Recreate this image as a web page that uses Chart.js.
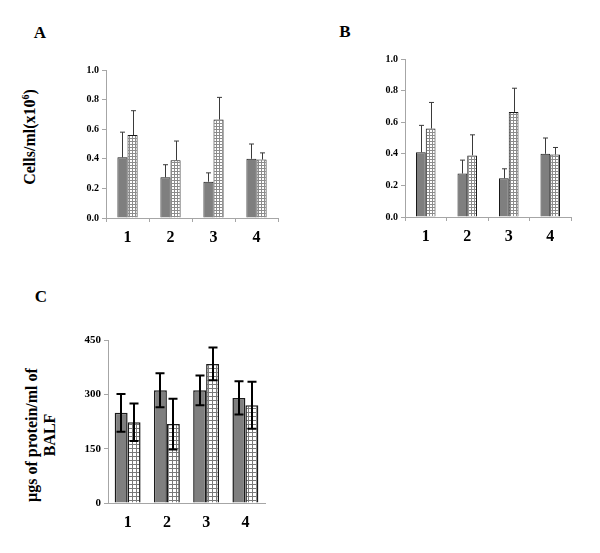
<!DOCTYPE html>
<html>
<head>
<meta charset="utf-8">
<script src="https://cdn.jsdelivr.net/npm/chart.js@4"></script>
<style>
  body { margin: 0; background: #fff; }
  #page { position: relative; width: 600px; height: 553px; overflow: hidden; font-family: "Liberation Serif", "Times New Roman", serif; }
  canvas { position: absolute; }
  .letter { position: absolute; font-weight: bold; font-size: 17px; transform: translate(-50%, -50%); }
  .ytitle { position: absolute; font-weight: bold; font-size: 16px; white-space: nowrap; text-align: center; line-height: 18px; transform: translate(-50%, -50%) rotate(-90deg); }
</style>
</head>
<body>
<div id="page">
  <div class="letter" style="left:40px; top:33px;">A</div>
  <div class="letter" style="left:345px; top:32px;">B</div>
  <div class="letter" style="left:41px; top:297px;">C</div>
  <div class="ytitle" style="left:30px; top:137px;">Cells/ml(x10<sup style="font-size:10px; line-height:0;">6</sup>)</div>
  <div class="ytitle" style="left:41px; top:435px;">µgs of protein/ml of<br>BALF</div>
  <canvas id="chartA" width="300" height="260" style="left:0; top:0;"></canvas>
  <canvas id="chartB" width="300" height="260" style="left:300px; top:0;"></canvas>
  <canvas id="chartC" width="300" height="273" style="left:0; top:280px;"></canvas>
</div>
<script>
/* Kategorien */
const groups = ['1', '2', '3', '4'];

/* Zellzahl (Panel A und B), Mittelwert und Fehler nach oben */
const cellsGray = [0.41, 0.275, 0.245, 0.40];
const cellsGrayErr = [0.17, 0.085, 0.06, 0.10];
const cellsGrid = [0.56, 0.39, 0.665, 0.395];
const cellsGridErr = [0.165, 0.13, 0.15, 0.045];
const cellsTicks = [0, 0.2, 0.4, 0.6, 0.8, 1.0];

/* Protein (Panel C), Mittelwert und Fehler (symmetrisch) */
const protGray = [249, 311, 311, 290];
const protGrayErr = [52, 47, 41, 46];
const protGrid = [223, 218, 384, 270];
const protGridErr = [52, 70, 45, 65];
const protTicks = [0, 150, 300, 450];

const serif = '"Liberation Serif", "Times New Roman", serif';

/* Karomuster für die zweite Balkenreihe */
function gridPattern(size, lineColor) {
    const c = document.createElement('canvas');
    c.width = size;
    c.height = size;
    const g = c.getContext('2d');
    g.fillStyle = '#fff';
    g.fillRect(0, 0, size, size);
    g.fillStyle = lineColor;
    g.fillRect(0, 0, size, 1);
    g.fillRect(0, 0, 1, size);
    return g.createPattern(c, 'repeat');
}

/* Plugin für die Fehlerbalken */
const errorBars = {
    id: 'errorBars',
    afterDatasetsDraw(chart, args, opts) {
        const ctx = chart.ctx;
        const y = chart.scales.y;
        ctx.save();
        ctx.strokeStyle = opts.color;
        ctx.lineWidth = opts.width;
        chart.data.datasets.forEach((ds, i) => {
            const meta = chart.getDatasetMeta(i);
            meta.data.forEach((bar, j) => {
                const v = ds.data[j];
                const e = ds.errors[j];
                const top = y.getPixelForValue(v + e);
                const bottom = opts.both ? y.getPixelForValue(v - e) : y.getPixelForValue(v);
                const x = Math.round(bar.x) + (opts.width % 2 ? 0.5 : 0);
                ctx.beginPath();
                ctx.moveTo(x, bottom);
                ctx.lineTo(x, top);
                ctx.moveTo(x - opts.cap, top);
                ctx.lineTo(x + opts.cap, top);
                if (opts.both) {
                    ctx.moveTo(x - opts.cap, bottom);
                    ctx.lineTo(x + opts.cap, bottom);
                }
                ctx.stroke();
            });
        });
        ctx.restore();
    }
};

function makeChart(id, cfg) {
    const ctx = document.getElementById(id).getContext('2d');
    return new Chart(ctx, {
        type: 'bar',
        data: {
            labels: groups,
            datasets: [
                {
                    data: cfg.gray,
                    errors: cfg.grayErr,
                    backgroundColor: '#7f7f7f',
                    borderColor: '#1a1a1a',
                    borderWidth: cfg.border
                },
                {
                    data: cfg.grid,
                    errors: cfg.gridErr,
                    backgroundColor: gridPattern(cfg.cell, cfg.cellColor),
                    borderColor: '#1a1a1a',
                    borderWidth: cfg.border
                }
            ]
        },
        options: {
            responsive: false,
            animation: false,
            categoryPercentage: cfg.catPct,
            barPercentage: 1.0,
            layout: { padding: { top: cfg.top, right: cfg.right, left: 0, bottom: 0 } },
            plugins: {
                legend: { display: false },
                tooltip: { enabled: false },
                errorBars: cfg.err
            },
            scales: {
                x: {
                    grid: { drawOnChartArea: false, drawTicks: cfg.xTicks, tickLength: 4, color: '#a6a6a6', offset: true },
                    border: { display: true, color: '#a6a6a6' },
                    ticks: { color: '#000', padding: cfg.xPad, font: { family: serif, size: 16, weight: 'bold' } },
                    afterFit(scale) { scale.height = cfg.xHeight; }
                },
                y: {
                    min: cfg.ticks[0],
                    max: cfg.ticks[cfg.ticks.length - 1],
                    afterBuildTicks(scale) { scale.ticks = cfg.ticks.map(v => ({ value: v })); },
                    grid: { drawOnChartArea: false, tickLength: 4, color: '#a6a6a6' },
                    border: { display: true, color: '#a6a6a6' },
                    ticks: {
                        color: '#000',
                        padding: 3,
                        font: { family: serif, size: cfg.yFont, weight: 'bold' },
                        callback: cfg.fmt
                    },
                    afterFit(scale) { scale.width = cfg.yWidth; }
                }
            }
        },
        plugins: [errorBars]
    });
}

const cellErr = { color: '#3a3a3a', width: 1, cap: 2.5, both: false };

makeChart('chartA', {
    gray: cellsGray, grayErr: cellsGrayErr, grid: cellsGrid, gridErr: cellsGridErr,
    ticks: cellsTicks, fmt: v => Number(v).toFixed(1),
    top: 70, right: 22, yWidth: 106, xHeight: 42, xPad: 6, xTicks: true,
    catPct: 0.47, border: 1, cell: 3, cellColor: '#8c8c8c', yFont: 10, err: cellErr
});

makeChart('chartB', {
    gray: cellsGray, grayErr: cellsGrayErr, grid: cellsGrid, gridErr: cellsGridErr,
    ticks: cellsTicks, fmt: v => Number(v).toFixed(1),
    top: 59, right: 29, yWidth: 105, xHeight: 43, xPad: 6, xTicks: true,
    catPct: 0.47, border: 1, cell: 3, cellColor: '#8c8c8c', yFont: 10, err: cellErr
});

makeChart('chartC', {
    gray: protGray, grayErr: protGrayErr, grid: protGrid, gridErr: protGridErr,
    ticks: protTicks, fmt: v => String(v),
    top: 60, right: 35, yWidth: 108, xHeight: 50, xPad: 10, xTicks: false,
    catPct: 0.66, border: 1.5, cell: 4, cellColor: '#7a7a7a', yFont: 11,
    err: { color: '#000', width: 2, cap: 4.5, both: true }
});
</script>
</body>
</html>
